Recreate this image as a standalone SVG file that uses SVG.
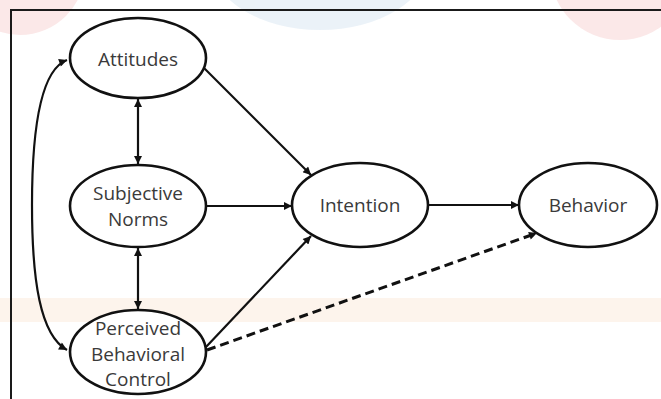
<svg xmlns="http://www.w3.org/2000/svg" width="661" height="399" viewBox="0 0 661 399">
<defs>
<style>
.node ellipse{fill:#ffffff;stroke:#111;stroke-width:2.6}
.node text{font-family:"Open Sans","Liberation Sans",sans-serif;font-size:19px;fill:#3a3a3a;text-anchor:middle}
.conn path{fill:none;stroke:#111;stroke-width:2.2}
.conn .dash{stroke-width:3;stroke-dasharray:9 5}
</style>
<marker id="ah" viewBox="0 0 10 10" refX="10" refY="5" markerUnits="userSpaceOnUse" markerWidth="9" markerHeight="8" orient="auto-start-reverse">
<path d="M0,0 L10,5 L0,10 z" fill="#111"/>
</marker>
</defs>
<rect x="0" y="0" width="661" height="399" fill="#ffffff"/>
<g id="background" opacity="0.9">
<circle cx="20" cy="-30" r="65" fill="#fbe6e6"/>
<ellipse cx="320" cy="-40" rx="110" ry="70" fill="#e9f1f7"/>
<circle cx="620" cy="-30" r="70" fill="#fbe6e6"/>
<rect x="0" y="298" width="661" height="24" fill="#fdf3ea"/>
</g>
<rect id="frame" x="11" y="10" width="680" height="420" fill="none" stroke="#1a1a1a" stroke-width="2"/>
<g id="connectors" class="conn">
<path d="M138,99 L138,164" marker-start="url(#ah)" marker-end="url(#ah)"/>
<path d="M138,248 L138,309" marker-start="url(#ah)" marker-end="url(#ah)"/>
<path d="M67,60 C40,70 32,130 32,205 C32,280 40,335 67,350" marker-start="url(#ah)" marker-end="url(#ah)"/>
<path d="M204,68 L311,175" marker-end="url(#ah)"/>
<path d="M206,206 L292,206" marker-end="url(#ah)"/>
<path d="M206,347 L311,236" marker-end="url(#ah)"/>
<path d="M428,205 L519,205" marker-end="url(#ah)"/>
<path class="dash" d="M207,350 L537,233" marker-end="url(#ah)"/>
</g>
<g id="attitudes" class="node">
<ellipse cx="138" cy="58" rx="68" ry="40"/>
<text x="138" y="66">Attitudes</text>
</g>
<g id="subjective-norms" class="node">
<ellipse cx="138" cy="206" rx="68" ry="41"/>
<text x="138" y="200">Subjective</text>
<text x="138" y="226">Norms</text>
</g>
<g id="intention" class="node">
<ellipse cx="360" cy="205" rx="68" ry="42"/>
<text x="360" y="212">Intention</text>
</g>
<g id="behavior" class="node">
<ellipse cx="588" cy="205" rx="69" ry="42"/>
<text x="588" y="212">Behavior</text>
</g>
<g id="pbc" class="node">
<ellipse cx="138" cy="352" rx="68" ry="42"/>
<text x="138" y="335">Perceived</text>
<text x="138" y="361">Behavioral</text>
<text x="138" y="386">Control</text>
</g>
</svg>
